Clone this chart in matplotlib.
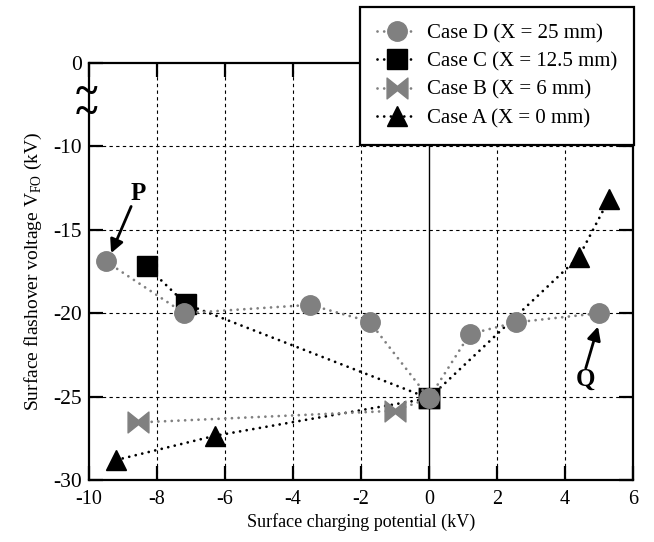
import matplotlib
matplotlib.use("Agg")
import matplotlib.pyplot as plt
from matplotlib.path import Path
import matplotlib.transforms as mtransforms

plt.rcParams['font.family'] = ['Liberation Serif', 'DejaVu Serif']
plt.rcParams['mathtext.fontset'] = 'custom'
plt.rcParams['mathtext.rm'] = 'Liberation Serif'
plt.rcParams['axes.unicode_minus'] = False

# Valores (kV)
xa = [-9.2, -6.3, 0.0, 4.4, 5.3]
ya = [-28.8, -27.35, -25.1, -16.65, -13.15]
xb = [-8.55, -1.0, 0.0]
yb = [-26.55, -25.85, -25.1]
xc = [-8.3, -7.15, 0.0]
yc = [-17.2, -19.45, -25.1]
xd = [-9.5, -7.2, -3.5, -1.75, 0.0, 1.2, 2.55, 5.0]
yd = [-16.9, -20.0, -19.5, -20.5, -25.1, -21.25, -20.55, -20.0]

xticks = [-10, -8, -6, -4, -2, 0, 2, 4, 6]
yticks = [-30, -25, -20, -15, -10, -5]
ytick_labels = ['-30', '-25', '-20', '-15', '-10', '0']

gray = '#808080'
dots = (0, (0.01, 2.4))

# marcador "gravata borboleta" do Case B
bowtie = Path([(-1, -1), (-1, 1), (0, 0.2), (1, 1), (1, -1), (0, -0.2), (-1, -1)],
              [Path.MOVETO] + [Path.LINETO] * 5 + [Path.CLOSEPOLY])

fig = plt.figure(figsize=(6.54, 5.42), dpi=100)
ax = fig.add_axes([89 / 654, 1 - 480 / 542, 544 / 654, 417 / 542])

lA, = ax.plot(xa, ya, color='k', ls=dots, lw=2, dash_capstyle='round',
              marker='^', ms=14, label='Case A (X = 0 mm)', zorder=3)
lB, = ax.plot(xb, yb, color=gray, ls=dots, lw=2, dash_capstyle='round',
              marker=bowtie, ms=15, label='Case B (X = 6 mm)', zorder=3)
lC, = ax.plot(xc, yc, color='k', ls=dots, lw=2, dash_capstyle='round',
              marker='s', ms=14, label='Case C (X = 12.5 mm)', zorder=3)
lD, = ax.plot(xd, yd, color=gray, ls=dots, lw=2, dash_capstyle='round',
              marker='o', ms=14, label='Case D (X = 25 mm)', zorder=3)

ax.set_xlim(-10, 6)
ax.set_ylim(-30, -5)
ax.set_xticks(xticks)
ax.set_xticklabels([str(t) for t in xticks])
ax.set_yticks(yticks)
ax.set_yticklabels(ytick_labels)

# grade tracejada, linha sólida em x = 0
for x in xticks[1:-1]:
    if x == 0:
        ax.axvline(0, color='k', lw=1, zorder=1)
    else:
        ax.axvline(x, color='k', lw=0.8, ls=(0, (3, 3)), zorder=1)
for y in yticks[1:-1]:
    ax.axhline(y, color='k', lw=0.8, ls=(0, (3, 3)), zorder=1)

for s in ax.spines.values():
    s.set_linewidth(1.6)
ax.tick_params(direction='in', length=10, width=1.6, top=True, right=True)
ax.tick_params(axis='x', labelsize=14.5, pad=7)
ax.tick_params(axis='y', labelsize=15.5, pad=5)

ax.set_xlabel('Surface charging potential (kV)', fontsize=13, labelpad=3)
ax.set_ylabel(r'Surface flashover voltage V$_{\rm FO}$ (kV)', fontsize=14, labelpad=7)

# símbolo de quebra no eixo y
trans = mtransforms.blended_transform_factory(ax.transAxes, ax.transData)
ax.text(-0.004, -7.45, '~\n~', transform=trans, ha='center', va='center',
        fontsize=30, fontweight='bold', linespacing=0.36, clip_on=False)

# anotações P e Q
ax.annotate('', xy=(-9.35, -16.4), xytext=(-8.76, -13.6),
            arrowprops=dict(arrowstyle='-|>', color='k', lw=2, mutation_scale=20,
                            shrinkA=0, shrinkB=0))
ax.text(-8.55, -12.8, 'P', fontsize=18, fontweight='bold', ha='center', va='center')
ax.annotate('', xy=(4.97, -20.8), xytext=(4.61, -23.3),
            arrowprops=dict(arrowstyle='-|>', color='k', lw=2, mutation_scale=20,
                            shrinkA=0, shrinkB=0))
ax.text(4.61, -23.95, 'Q', fontsize=18, fontweight='bold', ha='center', va='center')

leg = fig.legend(handles=[lD, lC, lB, lA], loc='upper right',
                 bbox_to_anchor=(634 / 654, 1 - 7 / 542), fontsize=15,
                 fancybox=False, framealpha=1, edgecolor='k', handlelength=1.9,
                 handletextpad=0.5, labelspacing=0.42, borderpad=0.8,
                 borderaxespad=0)
leg.get_frame().set_linewidth(1.6)

plt.savefig('out.png', dpi=100)
